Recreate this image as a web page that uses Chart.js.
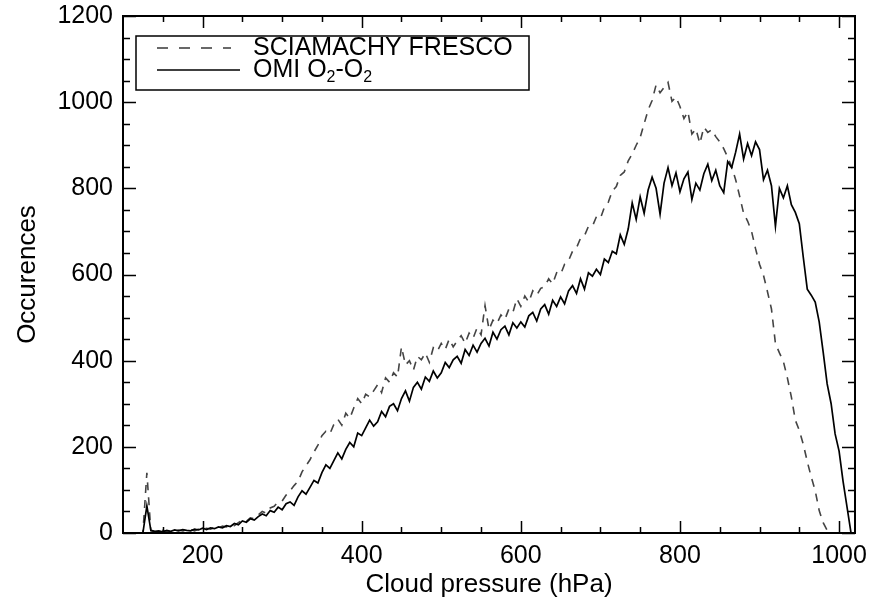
<!DOCTYPE html>
<html>
<head>
<meta charset="utf-8">
<script src="https://cdn.jsdelivr.net/npm/chart.js@4/dist/chart.umd.min.js"></script>
<style>
  html, body { margin: 0; padding: 0; background: #fff; }
  canvas { display: block; }
</style>
</head>
<body>
<canvas id="chart" width="884" height="600"></canvas>
<script>
// cloud pressure bins (hPa)
const pressure = [
  100, 105, 110, 115, 120, 125, 130, 135, 140, 145,
  150, 155, 160, 165, 170, 175, 180, 185, 190, 195,
  200, 205, 210, 215, 220, 225, 230, 235, 240, 245,
  250, 255, 260, 265, 270, 275, 280, 285, 290, 295,
  300, 305, 310, 315, 320, 325, 330, 335, 340, 345,
  350, 355, 360, 365, 370, 375, 380, 385, 390, 395,
  400, 405, 410, 415, 420, 425, 430, 435, 440, 445,
  450, 455, 460, 465, 470, 475, 480, 485, 490, 495,
  500, 505, 510, 515, 520, 525, 530, 535, 540, 545,
  550, 555, 560, 565, 570, 575, 580, 585, 590, 595,
  600, 605, 610, 615, 620, 625, 630, 635, 640, 645,
  650, 655, 660, 665, 670, 675, 680, 685, 690, 695,
  700, 705, 710, 715, 720, 725, 730, 735, 740, 745,
  750, 755, 760, 765, 770, 775, 780, 785, 790, 795,
  800, 805, 810, 815, 820, 825, 830, 835, 840, 845,
  850, 855, 860, 865, 870, 875, 880, 885, 890, 895,
  900, 905, 910, 915, 920, 925, 930, 935, 940, 945,
  950, 955, 960, 965, 970, 975, 980, 985, 990, 995,
  1000, 1005, 1010, 1015, 1020
];

// SCIAMACHY FRESCO occurrences
const sciamachy = [
  0, 0, 0, 0, 0, 0, 140, 5, 3, 4,
  6, 3, 5, 4, 7, 5, 6, 8, 5, 9,
  8, 11, 9, 13, 11, 16, 14, 19, 17, 24,
  30, 27, 35, 33, 42, 50, 46, 58, 62, 72,
  74, 88, 98, 110, 120, 142, 156, 170, 188, 204,
  226, 236, 230, 252, 264, 250, 278, 266, 290, 312,
  300, 322, 316, 330, 344, 326, 360, 350, 372, 362,
  432, 390, 400, 378, 410, 402, 418, 396, 430, 422,
  440, 426, 450, 432, 446, 458, 440, 464, 452, 476,
  460, 528, 472, 494, 486, 506, 496, 520, 512, 544,
  526, 550, 536, 562, 552, 568, 572, 590, 578, 604,
  600, 624, 632, 654, 662, 684, 690, 712, 712, 734,
  730, 756, 768, 794, 804, 830, 838, 864, 880, 900,
  918, 950, 982, 1004, 1040, 1022, 1034, 1046, 1002, 1012,
  990, 962, 978, 926, 938, 904, 942, 930, 936, 920,
  908, 892, 872, 850, 820, 782, 742, 724, 700, 660,
  624, 598, 560, 520, 440, 418, 398, 360, 316, 262,
  238, 206, 166, 130, 98, 52, 24, 6, 0, 0,
  0, null, null, null, null
];

// OMI O2-O2 occurrences
const omi = [
  0, 0, 0, 0, 0, 0, 63, 6, 4, 5,
  3, 6, 4, 7, 5, 8, 6, 5, 9, 7,
  11, 8, 12, 10, 14, 12, 17, 15, 22, 19,
  28, 25, 33, 30, 38, 44, 40, 52, 48, 60,
  54, 68, 72, 64, 84, 98, 90, 106, 122, 116,
  140, 158, 150, 168, 186, 172, 194, 210, 200, 232,
  226, 244, 262, 248, 258, 282, 270, 294, 300, 284,
  312, 330, 306, 338, 350, 334, 362, 352, 376, 360,
  372, 396, 384, 402, 410, 394, 426, 412, 436, 420,
  440, 452, 434, 466, 450, 472, 480, 460, 488, 476,
  490, 478, 504, 512, 492, 520, 530, 508, 540, 526,
  548, 532, 562, 574, 556, 590, 566, 604, 596, 612,
  600, 636, 628, 654, 648, 692, 670, 706, 766, 728,
  780, 742, 796, 826, 800, 740, 812, 848, 806, 836,
  792, 822, 838, 774, 812, 796, 834, 856, 818, 842,
  806, 790, 862, 848, 884, 926, 868, 904, 876, 908,
  890, 820, 842, 806, 712, 800, 778, 806, 762, 744,
  718, 640, 566, 552, 536, 490, 420, 346, 300, 230,
  190, 120, 60, 0, null
];

const xTicks = [200, 400, 600, 800, 1000];
const xMinor = [150, 250, 300, 350, 450, 500, 550, 650, 700, 750, 850, 900, 950];
const yTicks = [0, 200, 400, 600, 800, 1000, 1200];
const yMinor = [50, 100, 150, 250, 300, 350, 450, 500, 550, 650, 700, 750, 850, 900, 950, 1050, 1100, 1150];

const FONT = "'Liberation Sans', Arial, Helvetica, sans-serif";

const toPoints = (vals) => pressure.map((p, i) => ({ x: p, y: vals[i] }));

// inward tick marks on all four sides + frame
const framePlugin = {
  id: 'frame',
  afterDatasetsDraw(chart) {
    const { ctx, chartArea: a, scales: { x, y } } = chart;
    ctx.save();
    ctx.strokeStyle = '#000';
    ctx.lineWidth = 1.5;
    ctx.beginPath();
    const xt = (vals, len) => vals.forEach(v => {
      const px = Math.round(x.getPixelForValue(v)) + 0.5;
      ctx.moveTo(px, a.bottom); ctx.lineTo(px, a.bottom - len);
      ctx.moveTo(px, a.top); ctx.lineTo(px, a.top + len);
    });
    const yt = (vals, len) => vals.forEach(v => {
      const py = Math.round(y.getPixelForValue(v)) + 0.5;
      ctx.moveTo(a.left, py); ctx.lineTo(a.left + len, py);
      ctx.moveTo(a.right, py); ctx.lineTo(a.right - len, py);
    });
    xt(xTicks, 12);
    xt(xMinor, 6);
    yt(yTicks, 13);
    yt(yMinor, 7);
    ctx.stroke();
    ctx.lineWidth = 2;
    ctx.strokeRect(a.left, a.top, a.right - a.left, a.bottom - a.top);
    ctx.restore();
  }
};

// boxed legend in the upper left of the plot
function drawLabel(ctx, text, x, y, size) {
  let cx = x;
  for (const ch of text) {
    if (ch === '\u2082') {
      ctx.font = Math.round(size * 0.62) + 'px ' + FONT;
      ctx.fillText('2', cx, y + size * 0.3);
      cx += ctx.measureText('2').width;
    } else {
      ctx.font = size + 'px ' + FONT;
      ctx.fillText(ch, cx, y);
      cx += ctx.measureText(ch).width;
    }
  }
}

const legendPlugin = {
  id: 'boxLegend',
  afterDraw(chart) {
    const { ctx, chartArea: a } = chart;
    const left = a.left + 13, top = a.top + 20;
    const w = 393, h = 54;
    ctx.save();
    ctx.strokeStyle = '#000';
    ctx.lineWidth = 1.5;
    ctx.strokeRect(left, top, w, h);
    ctx.fillStyle = '#000';
    ctx.textBaseline = 'middle';
    chart.data.datasets.slice().reverse().forEach((ds, i) => {
      const ly = top + 12 + i * 22;
      ctx.beginPath();
      ctx.strokeStyle = ds.borderColor;
      ctx.lineWidth = ds.borderWidth;
      ctx.setLineDash(ds.borderDash ? [11, 11] : []);
      ctx.moveTo(left + 21, ly);
      ctx.lineTo(left + (ds.borderDash ? 95 : 104), ly);
      ctx.stroke();
      ctx.setLineDash([]);
      drawLabel(ctx, ds.label, left + 117, ly, 25);
    });
    ctx.restore();
  }
};

new Chart(document.getElementById('chart'), {
  type: 'line',
  data: {
    datasets: [
      {
        label: 'OMI O\u2082-O\u2082',
        data: toPoints(omi),
        borderColor: '#000',
        borderWidth: 1.7,
        pointRadius: 0,
        tension: 0,
        spanGaps: false,
        order: 1
      },
      {
        label: 'SCIAMACHY FRESCO',
        data: toPoints(sciamachy),
        borderColor: '#444',
        borderWidth: 1.6,
        borderDash: [8, 7],
        pointRadius: 0,
        tension: 0,
        spanGaps: false,
        order: 2
      }
    ]
  },
  options: {
    responsive: false,
    animation: false,
    devicePixelRatio: 1,
    layout: { padding: { left: 0, right: 29, top: 16, bottom: 0 } },
    plugins: {
      legend: { display: false },
      tooltip: { enabled: false }
    },
    scales: {
      x: {
        type: 'linear',
        min: 100,
        max: 1020,
        afterBuildTicks: (s) => { s.ticks = xTicks.map(v => ({ value: v })); },
        afterFit: (s) => { s.height = 67; s.paddingLeft = 0; s.paddingRight = 0; },
        grid: { display: false, drawTicks: false },
        border: { display: false },
        ticks: { color: '#000', padding: 8, maxRotation: 0, font: { family: FONT, size: 25 }, callback: (v) => String(v) },
        title: {
          display: true,
          text: 'Cloud pressure (hPa)',
          color: '#000',
          padding: { top: 0, bottom: 0 },
          font: { family: FONT, size: 26 }
        }
      },
      y: {
        min: 0,
        max: 1200,
        afterBuildTicks: (s) => { s.ticks = yTicks.map(v => ({ value: v })); },
        afterFit: (s) => { s.width = 123; s.paddingTop = 0; s.paddingBottom = 0; },
        grid: { display: false, drawTicks: false },
        border: { display: false },
        ticks: { color: '#000', padding: 10, font: { family: FONT, size: 25 }, callback: (v) => String(v) },
        title: {
          display: true,
          text: 'Occurences',
          color: '#000',
          padding: { top: 12, bottom: 0 },
          font: { family: FONT, size: 26 }
        }
      }
    }
  },
  plugins: [framePlugin, legendPlugin]
});
</script>
</body>
</html>
